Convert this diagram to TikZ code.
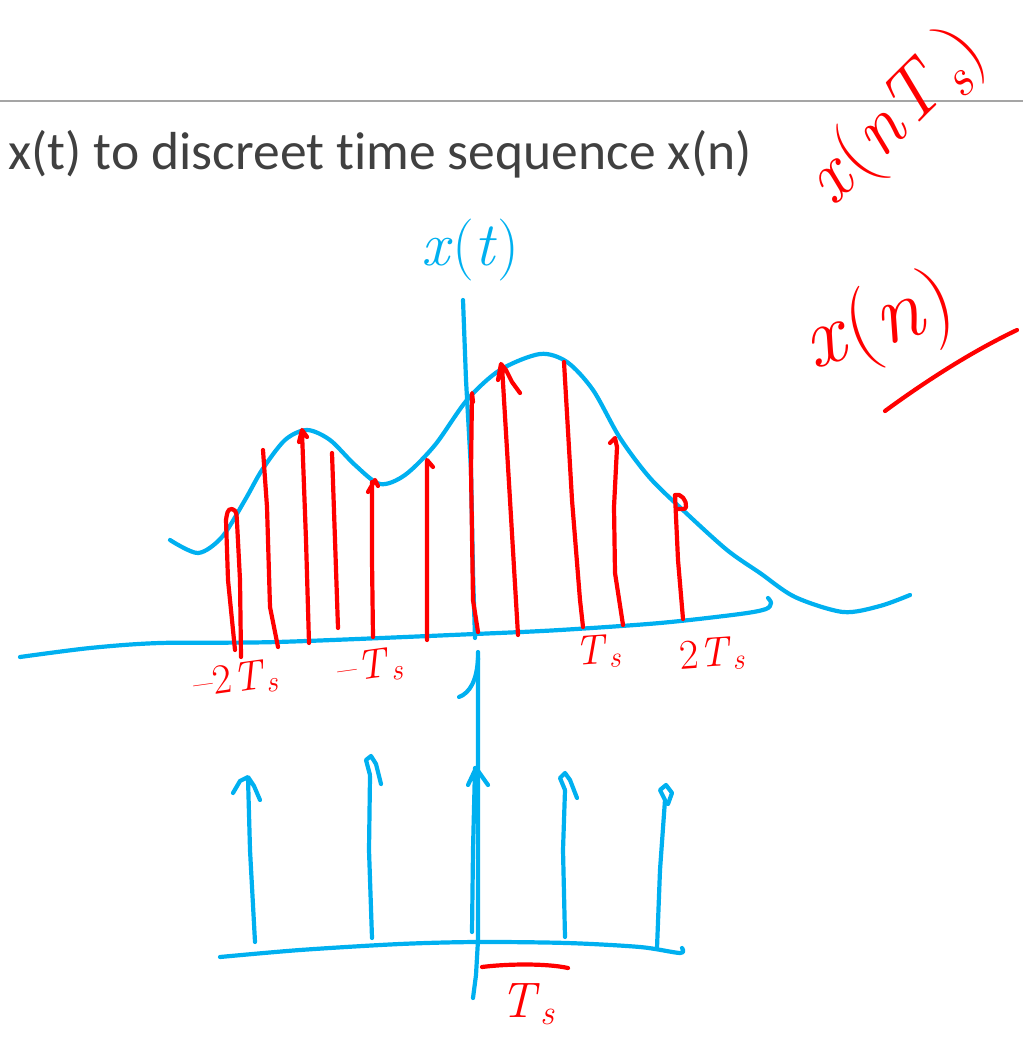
\documentclass[tikz,border=0pt]{standalone}
\usepackage{fontspec}
\newfontfamily\titlefont[Ligatures=NoCommon]{Carlito}
\definecolor{penblue}{RGB}{0,176,240}
\definecolor{penred}{RGB}{255,0,0}
\definecolor{titlegray}{RGB}{64,64,64}
\definecolor{rulegray}{RGB}{165,165,165}
\newcommand{\hsub}[1]{\textsubscript{\textit{#1}}}
\tikzset{
  bluepen/.style={draw=penblue, line width=4.2pt, line cap=round, line join=round},
  redpen/.style={draw=penred, line width=4.2pt, line cap=round, line join=round},
  redlabel/.style={text=penred, inner sep=0pt},
  bluelabel/.style={text=penblue, inner sep=0pt}
}
\begin{document}
\begin{tikzpicture}[x=1pt,y=-1pt]
\useasboundingbox (0,0) rectangle (1023,1040);
% header rule and title
\draw[rulegray, line width=1.6pt] (0,101) -- (1023,101);
\node[anchor=base west, inner sep=0pt, text=titlegray, font=\titlefont\fontsize{53.5}{60}\selectfont] (title) at (8,170) {x(t) to discreet time sequence x(n)};

% ---------- upper plot ----------
% vertical axis (upper part)
\draw[bluepen] (463,300) -- (466,380) -- (471,470) -- (473,573) -- (475,638);
% horizontal axis
\draw[bluepen] plot[smooth] coordinates {(20,657) (90,648) (160,643) (277,642) (475,634) (560,630) (660,623) (740,614) (766,609) (771,603) (768,598)};
% continuous signal
\draw[bluepen] plot[smooth] coordinates {(170,540) (198,553) (222,537) (245,500) (262,470) (285,440) (307,430) (330,440) (355,465) (380,484) (405,475) (435,445) (467,400) (500,370) (540,354) (567,362) (593,390) (620,438) (650,478) (685,512) (727,550) (760,573) (795,597) (843,612) (880,606) (910,595)};
\node[bluelabel, font=\fontsize{62}{62}\selectfont] (xt) at (470,250) {\textit{x}(\textit{t})};

% red samples
\draw[redpen] (235,650) -- (228,580) -- (226,520) to[out=80,in=170] (232,509) to[out=-10,in=95] (237,522) -- (240,580) -- (241,657);
\draw[redpen] (263,450) -- (267,507) -- (270,607) -- (278,647);
\draw[redpen] (309,643) -- (306,540) -- (302,432) (299,442) -- (302,430) -- (307,437);
\draw[redpen] (332,453) -- (335,540) -- (338,628);
\draw[redpen] (373,637) -- (372,560) -- (372,482) (368,492) -- (375,480) -- (378,486);
\draw[redpen] (427,640) -- (427,460) -- (433,467);
\draw[redpen] (478,632) -- (473,600) -- (471,470) -- (472,393) -- (473,402);
\draw[redpen] (518,635) -- (510,500) -- (502,366) (498,380) -- (501,364) -- (506,370) -- (512,382) -- (520,393);
\draw[redpen] (583,627) -- (580,600) -- (572,500) -- (564,362);
\draw[redpen] (623,625) -- (615,573) -- (614,507) -- (617,447) -- (615,438) -- (610,443);
\draw[redpen] (683,619) -- (678,560) -- (675,495) to[out=20,in=80] (686,507) to[out=-100,in=10] (678,509);

% sample labels
\node[redlabel, font=\fontsize{42}{42}\selectfont, rotate=8] (m2ts) at (236,680) {–2\textit{T}\hsub{s}};
\node[redlabel, font=\fontsize{42}{42}\selectfont, rotate=8] (m1ts) at (370,667) {–\textit{T}\hsub{s}};
\node[redlabel, font=\fontsize{42}{42}\selectfont, rotate=4] (p1ts) at (598,652) {\textit{T}\hsub{s}};
\node[redlabel, font=\fontsize{42}{42}\selectfont, rotate=4] (p2ts) at (712,655) {2\textit{T}\hsub{s}};

% side notes
\node[redlabel, font=\fontsize{76}{76}\selectfont, rotate=45] (xnts) at (897,118) {\textit{x}(\textit{nT}\hsub{s})};
\node[redlabel, font=\fontsize{86}{86}\selectfont, rotate=18] (xn) at (880,325) {\textit{x}(\textit{n})};
\draw[redpen] (885,411) .. controls (930,378) and (975,350) .. (1017,330);

% ---------- lower plot (impulse train) ----------
\draw[bluepen] (478,652) -- (478,940) -- (476,975) -- (473,998);
\draw[bluepen] (478,658) .. controls (477,680) and (470,693) .. (459,697);
\draw[bluepen] plot[smooth] coordinates {(220,957) (300,950) (400,944) (477,942) (567,943) (640,947) (680,953) (682,948)};
% impulses
\draw[bluepen] (255,942) -- (250,850) -- (248,778) (233,793) -- (240,781) -- (248,777) -- (254,786) -- (260,800);
\draw[bluepen] (372,938) -- (369,850) -- (370,776) (370,775) -- (366,760) -- (371,756) -- (376,764) -- (381,784);
\draw[bluepen] (472,932) -- (473,850) -- (475,768) (468,785) -- (476,768) -- (488,785);
\draw[bluepen] (565,937) -- (563,850) -- (565,790) (565,790) -- (560,778) -- (565,773) -- (570,780) -- (577,798);
\draw[bluepen] (657,948) -- (660,870) -- (665,800) (665,800) -- (660,790) -- (666,785) -- (672,793) -- (668,804);
% period marker
\draw[redpen] (482,967) .. controls (505,964) and (545,963) .. (568,968);
\node[redlabel, font=\fontsize{50}{50}\selectfont] (tsb) at (528,1004) {\textit{T}\hsub{s}};
\end{tikzpicture}
\end{document}
